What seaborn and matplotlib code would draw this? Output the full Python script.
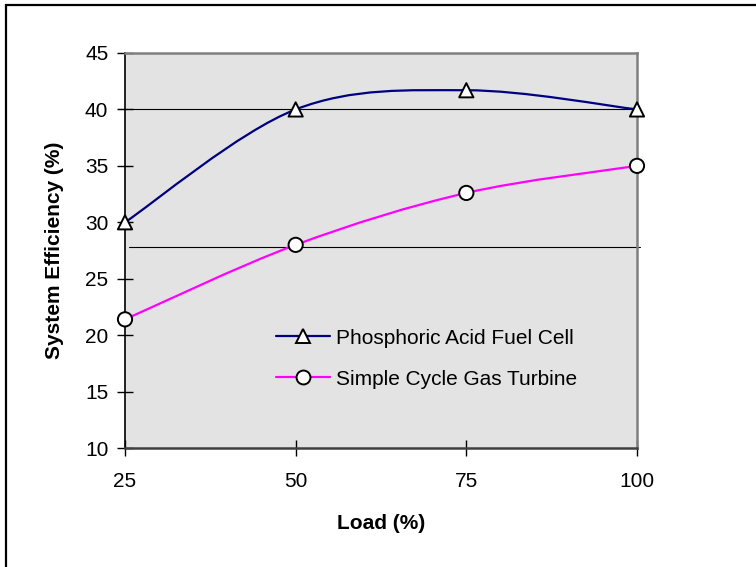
import matplotlib.pyplot as plt
import matplotlib as mpl
import seaborn as sns
import pandas as pd
import numpy as np
from matplotlib.path import Path
from matplotlib.patches import PathPatch, Rectangle
from matplotlib.lines import Line2D

sns.set_style('white')
mpl.rcParams['font.family'] = ['Liberation Sans', 'DejaVu Sans']
mpl.rcParams['text.color'] = 'black'
mpl.rcParams['axes.labelcolor'] = 'black'

# data
load = [25, 50, 75, 100]
pafc = [30, 40, 41.7, 40]
gas_turbine = [21.4, 28, 32.6, 35]
names = ['Phosphoric Acid Fuel Cell', 'Simple Cycle Gas Turbine']
ref_lines = [40, 27.8]   # the two stray horizontal rules in the picture
yticks = [10, 15, 20, 25, 30, 35, 40, 45]

df = pd.DataFrame({'Load': load * 2,
                   'Eff': pafc + gas_turbine,
                   'Series': [names[0]] * 4 + [names[1]] * 4})

colors = {names[0]: '#000080', names[1]: '#FF00FF'}
markers = {names[0]: '^', names[1]: 'o'}


def smooth_path(xs, ys):
    # excel-like smoothed line: catmull-rom converted to bezier segments
    pts = np.column_stack([xs, ys]).astype(float)
    n = len(pts)
    verts = [pts[0]]
    codes = [Path.MOVETO]
    for i in range(n - 1):
        p0 = pts[max(i - 1, 0)]
        p1 = pts[i]
        p2 = pts[i + 1]
        p3 = pts[min(i + 2, n - 1)]
        c1 = p1 + (p2 - p0) / 6
        c2 = p2 - (p3 - p1) / 6
        verts += [c1, c2, p2]
        codes += [Path.CURVE4] * 3
    return Path(verts, codes)


fig = plt.figure(figsize=(7.56, 5.67), dpi=100)
ax = fig.add_axes([125/756, 1 - 448/567, 512/756, 395/567])
ax.set_facecolor('#E3E3E3')

# stray horizontal rules
ax.axhline(ref_lines[0], xmin=-0.0137, xmax=1.0, color='black', lw=0.8,
           clip_on=False, zorder=1)
ax.axhline(ref_lines[1], xmin=0.008, xmax=1.006, color='black', lw=0.8,
           clip_on=False, zorder=1)

for name in names:
    sub = df[df['Series'] == name]
    ax.add_patch(PathPatch(smooth_path(sub['Load'], sub['Eff']), fill=False,
                           edgecolor=colors[name], lw=1.6, zorder=2,
                           clip_on=False))

sns.scatterplot(data=df, x='Load', y='Eff', hue='Series', style='Series',
                palette={n: 'white' for n in names}, markers=markers,
                s=105, edgecolor='black', linewidth=1.4, ax=ax, zorder=3,
                clip_on=False, legend=False)

ax.set_xlim(25, 100)
ax.set_ylim(10, 45)
ax.set_xticks(load)
ax.set_yticks(yticks)
ax.tick_params(axis='both', bottom=True, left=True, direction='inout',
               length=12, width=1, color='black', labelsize=15,
               labelcolor='black')
ax.tick_params(axis='y', pad=6)
ax.tick_params(axis='x', pad=11)

ax.set_xlabel('Load (%)', fontsize=15, fontweight='bold', labelpad=17)
ax.set_ylabel('System Efficiency (%)', fontsize=15, fontweight='bold',
              labelpad=15)

for s in ['top', 'right']:
    ax.spines[s].set_color('#808080')
    ax.spines[s].set_linewidth(1.8)
ax.spines['left'].set_color('black')
ax.spines['left'].set_linewidth(1.2)
ax.spines['bottom'].set_color('#404040')
ax.spines['bottom'].set_linewidth(1.8)

handles = [Line2D([], [], color=colors[n], lw=1.6, marker=markers[n],
                  markersize=10, markerfacecolor='white',
                  markeredgecolor='black', markeredgewidth=1.4)
           for n in names]
ax.legend(handles, names, loc='upper left', bbox_to_anchor=(0.295, 0.302),
          frameon=False, fontsize=15, handlelength=2.6, handletextpad=0.3,
          labelspacing=1.05, borderpad=0, borderaxespad=0)

# outer frame of the chart object (right and bottom edges fall outside)
fig.patches.append(Rectangle((6/756, -0.05), 1.1, 1 - 5/567 + 0.05,
                             transform=fig.transFigure, fill=False,
                             edgecolor='black', lw=1.6))

fig.savefig('out.png', dpi=100)
